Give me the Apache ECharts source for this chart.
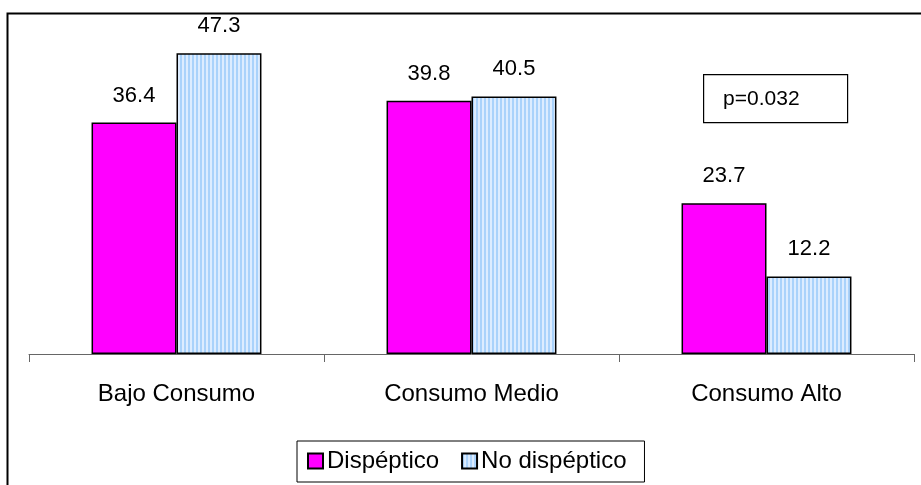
<!DOCTYPE html>
<html>
<head>
<meta charset="utf-8">
<script src="https://cdn.jsdelivr.net/npm/echarts@6/dist/echarts.min.js"></script>
<style>
  html, body { margin: 0; padding: 0; background: #fff; }
  #chart { width: 921px; height: 485px; }
</style>
</head>
<body>
<div id="chart"></div>
<script>
// Consumption levels and percentages per group
const categories = ['Bajo Consumo', 'Consumo Medio', 'Consumo Alto'];
const dispeptico = [36.4, 39.8, 23.7];
const noDispeptico = [47.3, 40.5, 12.2];
const seriesNames = ['Dispéptico', 'No dispéptico'];
const pValueText = 'p=0.032';

// Fine vertical stripe fill for the second series
function stripePattern() {
  const c = document.createElement('canvas');
  c.width = 4; c.height = 4;
  const ctx = c.getContext('2d');
  ctx.fillStyle = '#dcecff';
  ctx.fillRect(0, 0, 4, 4);
  ctx.fillStyle = '#a9d2fb';
  ctx.fillRect(0, 0, 2, 4);
  return c;
}

const FONT = '"Liberation Sans", Arial, sans-serif';
const chart = echarts.init(document.getElementById('chart'), null, { renderer: 'canvas' });

const labelStyle = {
  show: true,
  position: 'top',
  distance: 16,
  color: '#000',
  fontFamily: FONT,
  fontSize: 22,
  formatter: p => p.value.toFixed(1)
};

chart.setOption({
  animation: false,
  backgroundColor: '#fff',
  grid: { left: 29, right: 7, top: 36, bottom: 131 },
  xAxis: {
    type: 'category',
    data: categories,
    axisLine: { lineStyle: { color: '#666', width: 1 } },
    axisTick: { show: true, length: 8, lineStyle: { color: '#666' } },
    axisLabel: { color: '#000', fontFamily: FONT, fontSize: 24, margin: 28 }
  },
  yAxis: {
    type: 'value', min: 0, max: 50, show: false,
    splitLine: { show: false }
  },
  legend: {
    left: 297, top: 441,
    padding: [8, 18, 9, 10],
    borderColor: '#000', borderWidth: 1,
    itemWidth: 15, itemHeight: 15, itemGap: 22,
    icon: 'rect',
    textStyle: { color: '#000', fontFamily: FONT, fontSize: 24, padding: [0, 0, 0, -1] },
    data: seriesNames
  },
  series: [
    {
      name: seriesNames[0], type: 'bar', data: dispeptico,
      barGap: '0%', barCategoryGap: '42.4%',
      itemStyle: { color: '#ff00ff', borderColor: '#000', borderWidth: 1.5 },
      label: labelStyle
    },
    {
      name: seriesNames[1], type: 'bar', data: noDispeptico,
      itemStyle: { color: { image: stripePattern(), repeat: 'repeat' }, borderColor: '#000', borderWidth: 1.5 },
      label: labelStyle
    }
  ],
  graphic: [
    {
      type: 'rect', silent: true, z: -1,
      shape: { x: 7.5, y: 13.5, width: 930, height: 490 },
      style: { fill: 'none', stroke: '#000', lineWidth: 2 }
    },
    {
      type: 'group', left: 703, top: 74,
      children: [
        { type: 'rect', shape: { x: 0.5, y: 0.5, width: 144, height: 48 },
          style: { fill: '#fff', stroke: '#000', lineWidth: 1.2 } },
        { type: 'text', x: 20, y: 25,
          style: { text: pValueText, fill: '#000', font: '21px ' + FONT, verticalAlign: 'middle' } }
      ]
    }
  ]
});
</script>
</body>
</html>
